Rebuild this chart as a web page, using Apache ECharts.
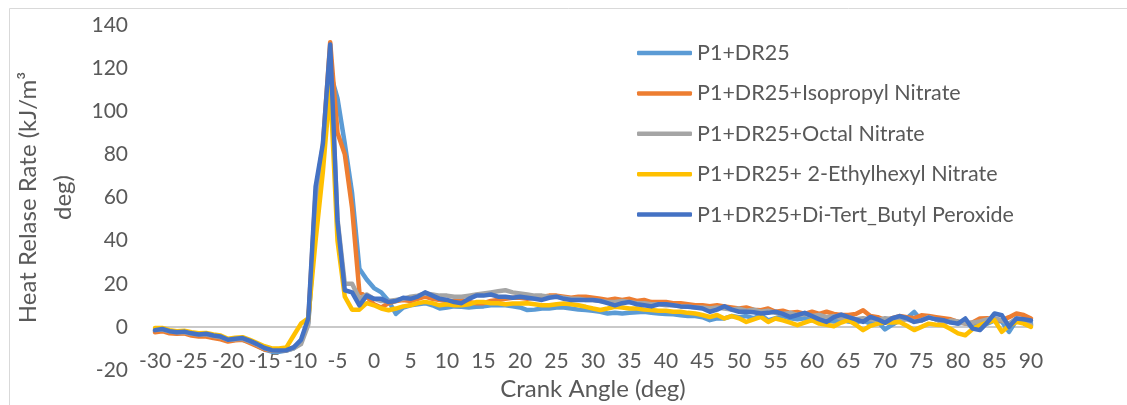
<!DOCTYPE html>
<html>
<head>
<meta charset="utf-8">
<script src="https://cdn.jsdelivr.net/npm/echarts@6/dist/echarts.min.js"></script>
<style>html,body{margin:0;padding:0;background:#fff}#c{width:1127px;height:405px}</style>
</head>
<body>
<div id="c"></div>
<script>
// Crank angle grid: -30 .. 90 deg, 1 deg step
var angles = [];
for (var a = -30; a <= 90; a++) angles.push(a);

var seriesNames = ['P1+DR25', 'P1+DR25+Isopropyl Nitrate', 'P1+DR25+Octal Nitrate', 'P1+DR25+ 2-Ethylhexyl Nitrate', 'P1+DR25+Di-Tert_Butyl Peroxide'];

var p1dr25 = [-2,-1.5,-2.5,-3,-2.8,-3.5,-4,-3.8,-4.5,-5,-6.2,-6,-6,-7,-8.8,-10.5,-11.5,-11.5,-11,-10,-7,
  2,50,80,118,106,85,62,27,22,
  18,16,12,6,9,10,10.5,11,10,8.5, 9,9.5,9.3,9,9.3,9.5,10,10,10,9.5, 9,7.8,8,8.5,8.5,9,9,8.5,8,7.8,
  7.5,7,6.2,6.5,6.2,6.5,6.8,7,6.5,6.2, 6,5.8,5.4,5,5,4.5,3.1,4,3.9,5, 4.5,5,4,5.5,3,4,5,4,3.5,4,
  3,4.5,3,2.5,3.5,2.5,2,3,1.5,2.5, -1.2,1,3,4,6.9,3,4.6,3.5,3,2.5, 1.5,2,0,1,1.5,3,2.5,-2.3,3.1,2.5, 1.5];

var isopropyl = [-2.5,-2,-3,-3.2,-3,-4,-4.5,-4.5,-5.2,-5.8,-6.8,-6.2,-6,-7.5,-9,-10.5,-11,-11,-10.8,-9.5,-7,
  3,62,84,132,90,80,55,16,14,
  10.5,9,11,12,12.5,12,13,14,13,12.5, 12,12,12.5,11.5,11,11,12,12.5,13,13.5, 13.5,13,13.5,14,14.5,14.5,14,13.5,14,14,
  13.5,13,12.5,13,12.5,13,12,12.5,11.5,11.5, 11.5,11,11,10.5,10,10,9.6,10,9.5,9, 8.5,9,8,7.7,8.5,7,7.5,6.5,6.9,6,
  7,6,7,6,5.5,5.5,6,7.7,5,4.5, 3.1,4,5,4.5,4,5.4,5,4.5,4,3.5, 2.3,1.5,2,3.9,4,3.5,3,4.5,6.2,5.5, 3.9];

var octal = [-1.5,-1.2,-2,-2.5,-2.5,-3.2,-3.5,-3.5,-4.2,-4.8,-6,-5.8,-5.5,-6.8,-8.3,-10,-11,-11,-11,-10,-8,
  1,55,80,125,50,20,20,13,15,
  13,12,12,12.5,13,14,14.5,15.5,15,14.5, 14.5,14,14,14.5,15,15.5,16,16.5,17,16, 15.5,15,14.5,14.5,14,14,13.5,13,13,12.5,
  12.5,12,11.5,11.5,12,11.5,11,11,10.5,10.5, 10,10,9.5,9.5,9,9,8.5,9,8.5,8, 8.5,7.5,8,7,7.5,6.5,6,6.5,5.5,6,
  5,5.5,4.5,5,4,4.5,3.5,4,3.5,3, 4,3.5,3,3.5,2.5,3,4.5,3.5,1.5,3, 2.5,1.5,2,2.5,3.5,4,3,1.5,4,3, 0.8];

var ethylhexyl = [-0.5,-0.5,-1.5,-2,-1.8,-2.5,-3,-2.8,-3.5,-4,-5.5,-5,-4.8,-6,-7.5,-9,-10,-10,-9.5,-4,1.5,
  4,40,72,112,40,14,8,8,11,
  10,8.5,7.7,8.5,9.5,10,11,11.6,11,10, 10.5,10,10,10.5,11.5,11.5,11,11,10.5,10.8, 10.8,11,10.5,10,10,10.5,10.8,10.5,10,9.3,
  8.5,7.8,8.5,9.3,9,8.5,8.5,8,7.8,7.5, 7.5,7,7,6.5,6.2,5.5,4.6,5.5,3.9,5, 4,2.3,3.5,4.6,2.3,3.9,3,2,0.8,2,
  3.1,1.5,1,0.3,2,3.1,1,-1.5,0.5,1.5, 2,2,2.3,0.5,-1.5,0,1.5,1,0.8,-1, -3,-3.9,-1,0.8,2,3.1,-2.3,0.5,2.3,1.5, 0];

var dtbp = [-1.5,-1,-2,-2.5,-2.2,-3,-3.5,-3.2,-4,-4.5,-6,-5.5,-5.2,-6.5,-8,-9.8,-10.8,-11,-10.8,-9.5,-6,
  4,65,85,131,49,17,16,10,14.5,
  13,13,11.5,12,13.5,13,14,16,14.5,13, 12.5,11.5,11,13,14.5,14.5,15,14,14,13.5, 14,13.5,13,12.5,13.5,14,13,12.5,12.5,12.5,
  12.5,12,11,10,11,11.5,10.5,10,9.5,10.5, 10.5,10,9.5,9.3,9,8.5,7,8,9.6,8, 7,7,6.8,6.2,6.5,7,6,4.6,5.5,6.5,
  5,3.5,2.3,4.5,5.7,4.5,3.5,2.3,4.6,3.5, 1.9,4,5,4,2.3,3,4.3,3.5,3.1,2, 1.5,3.9,-0.8,-1.5,2,6.2,5.4,0,3.9,3.5, 3];

var yTicks = {min: -20, max: 140, step: 20};
var xTicks = {min: -30, max: 90, step: 5};

var colors = ['#5B9BD5', '#ED7D31', '#A5A5A5', '#FFC000', '#4472C4'];
var allData = [p1dr25, isopropyl, octal, ethylhexyl, dtbp];

function pairs(vals) {
  return angles.map(function (x, i) { return [x, vals[i]]; });
}

// only the split line at value 0 is visible (horizontal axis line in the original)
var splitColors = [];
for (var t = yTicks.min; t <= yTicks.max; t += yTicks.step) {
  splitColors.push(t === 0 ? '#C9C9C9' : 'rgba(255,255,255,0)');
}

var txt = '#595959';
var font = 'Lato';

var series = seriesNames.map(function (n, i) {
  return {
    name: n, type: 'line', data: pairs(allData[i]),
    showSymbol: false, symbol: 'none', smooth: false,
    color: colors[i],
    lineStyle: {color: colors[i], width: 4.5, cap: 'round', join: 'round'},
    z: 2 + i
  };
});

var chart = echarts.init(document.getElementById('c'), null, {renderer: 'canvas'});
chart.setOption({
  animation: false,
  backgroundColor: '#fff',
  graphic: [{
    type: 'rect', left: 7, top: 6, shape: {width: 1140, height: 420},
    style: {fill: 'none', stroke: '#D9D9D9', lineWidth: 1}, silent: true, z: -10
  }],
  grid: {left: 155, right: 96, top: 25, bottom: 35, containLabel: false, outerBoundsMode: 'none'},
  legend: {
    orient: 'vertical', left: 632, top: 36,
    icon: 'roundRect',
    itemWidth: 55, itemHeight: 4.5, itemGap: 16.4,
    textStyle: {color: txt, fontSize: 21.5, fontFamily: font, lineHeight: 24},
    data: seriesNames
  },
  xAxis: {
    type: 'value', min: xTicks.min, max: xTicks.max, interval: xTicks.step,
    position: 'bottom',
    name: 'Crank Angle (deg)', nameLocation: 'middle', nameGap: 5,
    nameTextStyle: {color: txt, fontSize: 24, fontFamily: font, verticalAlign: 'top'},
    axisLine: {show: false, onZero: false},
    axisTick: {show: false},
    splitLine: {show: false},
    axisLabel: {color: txt, fontSize: 21, fontFamily: font, margin: -19, verticalAlign: 'top'}
  },
  yAxis: {
    type: 'value', min: yTicks.min, max: yTicks.max, interval: yTicks.step,
    name: 'Heat Relase Rate (kJ/m³\ndeg)', nameLocation: 'middle', nameGap: 72, nameRotate: 90,
    nameTextStyle: {color: txt, fontSize: 24, fontFamily: font, lineHeight: 35, align: 'center'},
    axisLine: {show: false}, axisTick: {show: false},
    splitLine: {show: true, showMinLine: true, showMaxLine: true, lineStyle: {color: splitColors, width: 2}},
    axisLabel: {color: txt, fontSize: 21, fontFamily: font, margin: 27}
  },
  series: series
});
</script>
</body>
</html>
